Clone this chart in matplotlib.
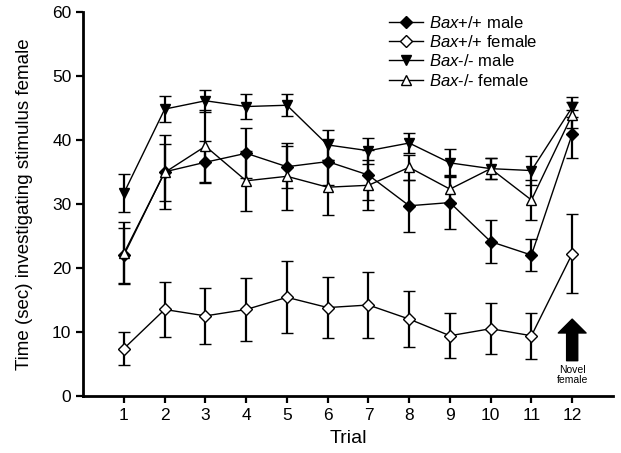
import matplotlib
matplotlib.use("Agg")
import matplotlib.pyplot as plt
from matplotlib.lines import Line2D

plt.rcParams['font.family'] = ['Liberation Sans', 'DejaVu Sans']
plt.rcParams['mathtext.fontset'] = 'custom'
plt.rcParams['mathtext.it'] = 'Liberation Sans:italic'
plt.rcParams['mathtext.rm'] = 'Liberation Sans'

trials = list(range(1, 13))

wt_male = [22.0, 35.0, 36.5, 37.9, 35.8, 36.6, 34.5, 29.7, 30.2, 24.1, 22.0, 40.9]
wt_male_err = [4.3, 5.8, 3.3, 3.9, 3.3, 3.6, 3.9, 4.1, 4.1, 3.3, 2.5, 3.8]

wt_female = [7.4, 13.5, 12.5, 13.5, 15.4, 13.8, 14.2, 12.0, 9.4, 10.5, 9.4, 22.2]
wt_female_err = [2.6, 4.3, 4.4, 4.9, 5.6, 4.8, 5.1, 4.4, 3.5, 4.0, 3.6, 6.2]

ko_male = [31.7, 44.8, 46.1, 45.2, 45.4, 39.2, 38.3, 39.5, 36.4, 35.5, 35.2, 45.1]
ko_male_err = [3.0, 2.0, 1.7, 2.0, 1.7, 2.4, 2.0, 1.5, 2.2, 1.6, 2.3, 1.6]

ko_female = [22.3, 34.9, 39.0, 33.6, 34.3, 32.6, 32.9, 35.7, 32.3, 35.5, 30.6, 43.9]
ko_female_err = [4.8, 4.4, 5.6, 4.7, 5.2, 4.3, 3.9, 2.0, 2.2, 1.6, 3.1, 2.0]

labels = [r"$\mathit{Bax}$+/+ male", r"$\mathit{Bax}$+/+ female",
          r"$\mathit{Bax}$-/- male", r"$\mathit{Bax}$-/- female"]

fig = plt.figure(figsize=(6.21, 4.53), dpi=100)
ax = fig.add_axes([0.134, 0.126, 0.853, 0.848])

common = dict(color='black', lw=1.0, capsize=4, elinewidth=1.6, capthick=1.6,
              markeredgecolor='black', markeredgewidth=1.0)

series = [
    (wt_male, wt_male_err, 'D', 'black', 6),
    (wt_female, wt_female_err, 'D', 'white', 6),
    (ko_male, ko_male_err, 'v', 'black', 7),
    (ko_female, ko_female_err, '^', 'white', 7),
]
handles = []
for (vals, errs, mk, fc, ms), lab in zip(series, labels):
    ax.errorbar(trials, vals, yerr=errs, marker=mk, markerfacecolor=fc,
                markersize=ms, zorder=3, **common)
    handles.append(Line2D([], [], color='black', lw=1.0, marker=mk,
                          markerfacecolor=fc, markeredgecolor='black',
                          markersize=ms, label=lab))

ax.set_xlim(0, 13)
ax.set_ylim(0, 60)
ax.set_xticks(trials)
ax.set_yticks(range(0, 61, 10))
ax.tick_params(axis='both', labelsize=12.5, width=1.6, length=5, direction='out')
for s in ['top', 'right']:
    ax.spines[s].set_visible(False)
for s in ['left', 'bottom']:
    ax.spines[s].set_linewidth(2)

ax.set_xlabel('Trial', fontsize=14, labelpad=5)
ax.set_ylabel('Time (sec) investigating stimulus female', fontsize=13.5, labelpad=14)

# Novel female arrow
ax.annotate('', xy=(12, 12.0), xytext=(12, 5.5),
            arrowprops=dict(facecolor='black', edgecolor='black', width=8,
                            headwidth=20, headlength=10))
ax.text(12, 4.9, 'Novel\nfemale', ha='center', va='top', fontsize=7.5, linespacing=1.1)

ax.legend(handles=handles, loc='upper left', bbox_to_anchor=(0.565, 1.01), frameon=False,
          fontsize=12, handlelength=2.0, handletextpad=0.4,
          labelspacing=0.2, borderaxespad=0)

fig.savefig('out.png', dpi=100)
